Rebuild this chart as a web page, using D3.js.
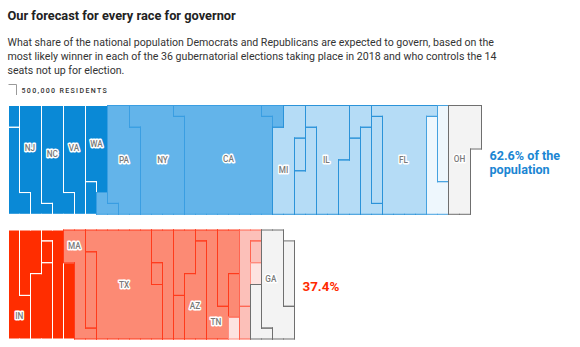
<!DOCTYPE html>
<html>
<head>
<meta charset="utf-8">
<script src="https://cdn.jsdelivr.net/npm/d3@7"></script>
<style>
  body { margin: 0; background: #fff; }
  svg { display: block; font-family: Roboto, "Liberation Sans", Arial, sans-serif; }
  .title { font-weight: 700; font-size: 12.8px; fill: #222; }
  .dek { font-size: 10.6px; fill: #333; }
  .key { font-size: 7px; font-weight: 500; letter-spacing: 1.35px; fill: #333; }
  .lab { font-size: 8.2px; font-weight: 500; fill: #7a7a7a; stroke: #fff; stroke-width: 2.8px; paint-order: stroke;
         stroke-linejoin: round; text-anchor: middle; dominant-baseline: central; }
  .share { font-weight: 700; font-size: 12.6px; }
</style>
</head>
<body>
<svg id="chart" width="580" height="347"></svg>
<script>

/// DATA ////////////////////////////////////////////////////////////////////////////////
// one cell = 500,000 residents, states listed in fill order (snaking down/up each column)

var demStates = ["DE","LA","NJ","NC","VA","MT","WA","RI","PA","NY","CA","HI","MI","ME","MN",
                 "IL","CO","NM","OR","CT","FL","WI","IA","OH"];
var demCells  = [2,10,19,21,18,3,15,3,27,41,80,3,21,3,12,27,12,5,9,8,42,12,7,24];
var demRating = ["off","off","off","off","off","off","off","likely","likely","likely","likely",
                 "likely","lean","lean","lean","lean","lean","lean","lean","lean","lean",
                 "tilt","tilt","toss"];

var repStates = ["IN","KY","MO","ND","MS","UT","MA","AR","TX","WY","MD","NE","AL","AZ","TN",
                 "SC","ID","AK","NH","OK","SD","VT","NV","GA","KS"];
var repCells  = [14,10,13,2,11,7,14,7,57,2,13,4,10,15,14,11,4,2,3,8,2,2,6,22,6];
var repRating = ["off","off","off","off","off","off","likely","likely","likely","likely",
                 "likely","likely","likely","likely","likely","likely","likely","tilt","lean",
                 "lean","lean","tilt","toss","toss","toss"];

// where the state names sit, in grid units (column, row)
var demLabels = [["NJ",1.95,3.9],["NC",3.98,4.45],["VA",5.95,3.9],["WA",8,3.5],["PA",10.5,5],
                 ["NY",14,5],["CA",20,4.9],["MI",25,5.9],["IL",28.9,5],["FL",35.9,5],["OH",41,4.9]];
var repLabels = [["MA",5.98,1.45],["TX",10.5,5.05],["IN",0.98,7.85],["AZ",16.95,6.95],
                 ["TN",18.85,8.45],["GA",23.85,4.5]];

var demShare = ["62.6% of the", "population"];
var repShare = ["37.4%"];

var ROWS = 10;
var COLS = 43;

/////////////////////////////////////////////////////////////////////////////////////////

var demFill   = {off: "#0a89d6", likely: "#63b4ea", lean: "#b5dcf6", tilt: "#eef7fd", toss: "#f3f3f3"};
var demStroke = {off: "#ffffff", likely: "#3a9ee2", lean: "#2b93d9", tilt: "#45a2e0", toss: "#6f6f6f"};
var repFill   = {off: "#ff2d00", likely: "#fc8a74", lean: "#fcc0b9", tilt: "#fde3e0", toss: "#f3f3f3"};
var repStroke = {off: "#ffffff", likely: "#ff3b1c", lean: "#ff6450", tilt: "#ff8f82", toss: "#6f6f6f"};

var svg = d3.select("#chart");

var x = d3.scaleLinear().domain([0, COLS]).range([8.5, 8.5 + COLS * 11]);
var yTop = d3.scaleLinear().domain([0, ROWS]).range([105.5, 214.3]);
var yBot = d3.scaleLinear().domain([0, ROWS]).range([230, 339]);

// text
svg.append("text").attr("class", "title").attr("x", 7.5).attr("y", 19.5)
    .text("Our forecast for every race for governor");

var dek = ["What share of the national population Democrats and Republicans are expected to govern, based on the",
           "most likely winner in each of the 36 gubernatorial elections taking place in 2018 and who controls the 14",
           "seats not up for election."];
svg.selectAll(".dek").data(dek).enter().append("text")
    .attr("class", "dek")
    .attr("x", 7.5)
    .attr("y", function (d, i) { return 45.5 + i * 14.4; })
    .text(function (d) { return d; });

// key
svg.append("path")
    .attr("d", "M8.5,84.5H16.5V95")
    .attr("fill", "none")
    .attr("stroke", "#9a9a9a");
svg.append("text").attr("class", "key").attr("x", 21.5).attr("y", 93.3).text("500,000 RESIDENTS");

/////////////////////////////////////////////////////////////////////////////////////////

function layout(names, cells, rating) {
    var out = [], idx = 0;
    names.forEach(function (n, i) {
        var list = [];
        for (var k = 0; k < cells[i]; k++, idx++) {
            var col = Math.floor(idx / ROWS), r = idx % ROWS;
            var row = col % 2 === 0 ? r : ROWS - 1 - r;
            list.push([col, row]);
        }
        out.push({ name: n, rating: rating[i], cells: list });
    });
    return out;
}

function fillPath(d, y) {
    return d.cells.map(function (c) {
        return "M" + x(c[0]) + "," + y(c[1]) + "H" + x(c[0] + 1) + "V" + y(c[1] + 1) + "H" + x(c[0]) + "Z";
    }).join("");
}

function edgePath(d, y) {
    var own = new Set(d.cells.map(function (c) { return c[0] + "," + c[1]; }));
    var has = function (c, r) { return own.has(c + "," + r); };
    var p = "";
    d.cells.forEach(function (c) {
        var c0 = c[0], r0 = c[1];
        if (!has(c0, r0 - 1)) p += "M" + x(c0) + "," + y(r0) + "H" + x(c0 + 1);
        if (!has(c0, r0 + 1)) p += "M" + x(c0) + "," + y(r0 + 1) + "H" + x(c0 + 1);
        if (!has(c0 - 1, r0)) p += "M" + x(c0) + "," + y(r0) + "V" + y(r0 + 1);
        if (!has(c0 + 1, r0)) p += "M" + x(c0 + 1) + "," + y(r0) + "V" + y(r0 + 1);
    });
    return p;
}

function drawBlock(states, y, fills, strokes, labels) {
    var g = svg.append("g");

    g.selectAll(".cellfill")
        .data(states)
        .enter()
        .append("path")
            .attr("class", "cellfill")
            .attr("d", function (d) { return fillPath(d, y); })
            .attr("fill", function (d) { return fills[d.rating]; })
            .attr("shape-rendering", "crispEdges");

    g.selectAll(".outline")
        .data(states)
        .enter()
        .append("path")
            .attr("class", "outline")
            .attr("d", function (d) { return edgePath(d, y); })
            .attr("fill", "none")
            .attr("stroke", function (d) { return strokes[d.rating]; })
            .attr("stroke-width", 1)
            .attr("stroke-linecap", "square");

    g.selectAll(".lab")
        .data(labels)
        .enter()
        .append("text")
            .attr("class", "lab")
            .attr("x", function (d) { return x(d[1]); })
            .attr("y", function (d) { return y(d[2]); })
            .text(function (d) { return d[0]; });
}

drawBlock(layout(demStates, demCells, demRating), yTop, demFill, demStroke, demLabels);
drawBlock(layout(repStates, repCells, repRating), yBot, repFill, repStroke, repLabels);

// share annotations
svg.selectAll(".demShare").data(demShare).enter().append("text")
    .attr("class", "share")
    .attr("x", 489.5)
    .attr("y", function (d, i) { return 160 + i * 13.5; })
    .attr("fill", "#1b86d3")
    .text(function (d) { return d; });

svg.selectAll(".repShare").data(repShare).enter().append("text")
    .attr("class", "share")
    .attr("x", 302.5)
    .attr("y", 290.8)
    .attr("fill", "#ff2a00")
    .style("font-size", "13.4px")
    .text(function (d) { return d; });
</script>
</body>
</html>
